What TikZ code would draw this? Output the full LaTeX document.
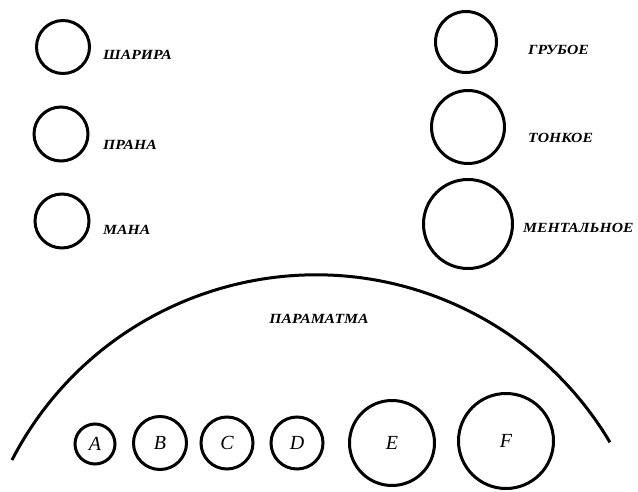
\documentclass[tikz,border=0pt]{standalone}
\usepackage{fontspec}
\setmainfont{Liberation Serif}
\newfontfamily\tagfont{Liberation Serif}[FakeStretch=1.12]
\begin{document}
\begin{tikzpicture}[
  x=1pt, y=-1pt,
  ring/.style={circle, draw=black, line width=3pt, inner sep=0pt},
  tag/.style={anchor=west, inner sep=0pt, font=\tagfont\fontsize{14}{16}\selectfont\bfseries\itshape},
  letter/.style={font=\fontsize{20}{22}\selectfont\itshape}
]
  % Рамка в пикселях исходного рисунка
  \useasboundingbox (0,0) rectangle (638,492);

  % Левая колонка
  \node[ring, minimum size=53pt] (sharira) at (63,47) {};
  \node[ring, minimum size=54pt] (prana)   at (61,134) {};
  \node[ring, minimum size=54pt] (mana)    at (62,221) {};
  \node[tag] (tsharira) at (103,55)  {ШАРИРА};
  \node[tag] (tprana)   at (103,145) {ПРАНА};
  \node[tag] (tmana)    at (103,230) {МАНА};

  % Правая колонка
  \node[ring, minimum size=61pt] (gruboe)  at (466,42) {};
  \node[ring, minimum size=73pt] (tonkoe)  at (468,127) {};
  \node[ring, minimum size=89pt] (mental)  at (468,224) {};
  \node[tag] (tgruboe) at (528,50)  {ГРУБОЕ};
  \node[tag] (ttonkoe) at (528,138) {ТОНКОЕ};
  \node[tag] (tmental) at (523,228) {МЕНТАЛЬНОЕ};

  % Дуга
  \coordinate (arcL) at (12,460);
  \draw[line width=3pt] (arcL) arc[start angle=-152.7, end angle=-30.7, radius=342];
  \node[tag, anchor=center] (tparam) at (319,319) {ПАРАМАТМА};

  % Нижний ряд
  \node[ring, letter, minimum size=40pt] (a) at (95,444)  {A};
  \node[ring, letter, minimum size=53pt] (b) at (160,443) {B};
  \node[ring, letter, minimum size=52pt] (c) at (227,443) {C};
  \node[ring, letter, minimum size=52pt] (d) at (297,443) {D};
  \node[ring, letter, minimum size=85pt] (e) at (392,443) {E};
  \node[ring, letter, minimum size=95pt] (f) at (506,441) {F};
\end{tikzpicture}
\end{document}
